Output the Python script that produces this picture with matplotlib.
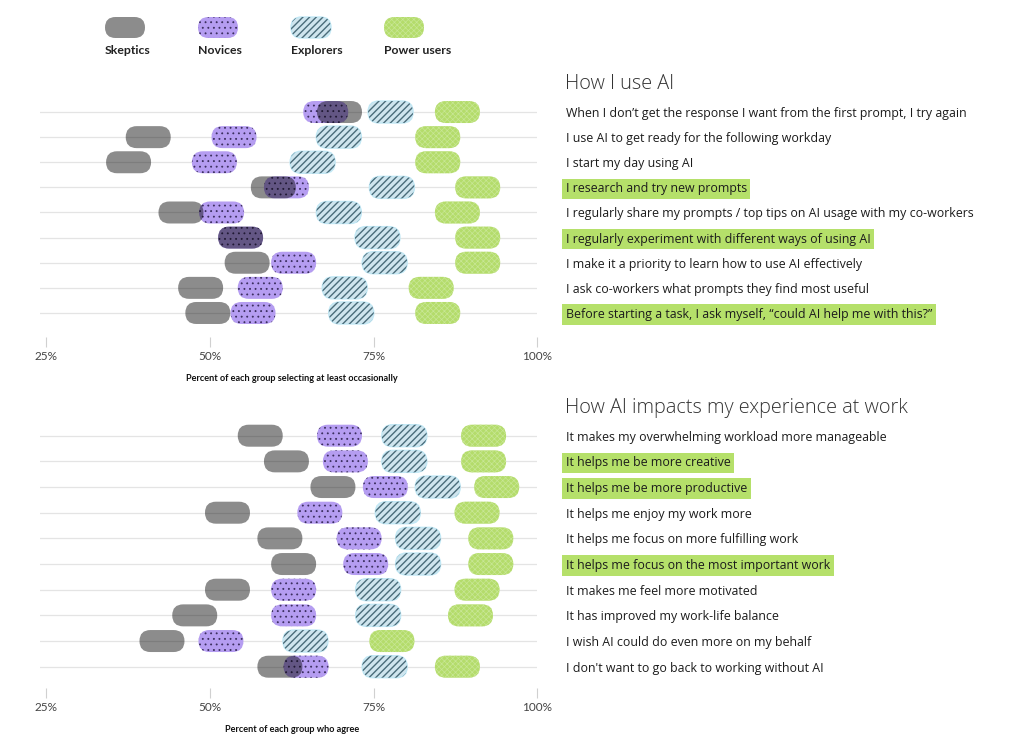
import matplotlib
matplotlib.use("Agg")
from matplotlib import pyplot as plt
from matplotlib.patches import FancyBboxPatch

plt.rcParams['font.family'] = ['Open Sans', 'DejaVu Sans']
BOLD_FONT = ['Lato', 'DejaVu Sans']

# legend groups
groups = ['Skeptics', 'Novices', 'Explorers', 'Power users']

# top block: how I use AI
use_labels = [
    "When I don\u2019t get the response I want from the first prompt, I try again",
    "I use AI to get ready for the following workday",
    "I start my day using AI",
    "I research and try new prompts",
    "I regularly share my prompts / top tips on AI usage with my co-workers",
    "I regularly experiment with different ways of using AI",
    "I make it a priority to learn how to use AI effectively",
    "I ask co-workers what prompts they find most useful",
    "Before starting a task, I ask myself, \u201ccould AI help me with this?\u201d",
]
use_highlight = [3, 5, 8]
use_skeptics = [69.8, 40.6, 37.6, 59.7, 45.6, 54.7, 55.7, 48.6, 49.7]
use_novices = [67.7, 53.7, 50.7, 61.7, 51.8, 54.7, 62.8, 57.7, 56.6]
use_explorers = [77.6, 69.7, 65.7, 77.8, 69.7, 75.6, 76.7, 70.6, 71.6]
use_power = [87.8, 84.8, 84.8, 90.9, 87.8, 90.9, 90.9, 83.8, 84.8]

# bottom block: how AI impacts work
imp_labels = [
    "It makes my overwhelming workload more manageable",
    "It helps me be more creative",
    "It helps me be more productive",
    "It helps me enjoy my work more",
    "It helps me focus on more fulfilling work",
    "It helps me focus on the most important work",
    "It makes me feel more motivated",
    "It has improved my work-life balance",
    "I wish AI could do even more on my behalf",
    "I don't want to go back to working without AI",
]
imp_highlight = [1, 2, 5]
imp_skeptics = [57.7, 61.7, 68.8, 52.7, 60.7, 62.8, 52.7, 47.7, 42.7, 60.7]
imp_novices = [69.8, 70.7, 76.8, 66.8, 72.8, 73.8, 62.8, 62.8, 51.7, 64.7]
imp_explorers = [79.7, 79.7, 84.8, 78.7, 81.8, 81.8, 75.7, 75.7, 64.6, 76.7]
imp_power = [91.8, 91.8, 93.8, 90.8, 92.9, 92.9, 90.8, 89.8, 77.8, 87.8]

x_ticks = [25, 50, 75, 100]
x_ticklabels = ['25%', '50%', '75%', '100%']

HL = '#b5e06a'
GRID = '#e4e4e4'
PILL_W, PILL_H = 45, 22   # pixels


def style_for(g):
    # one or two layers per group
    if g == 0:
        return [dict(facecolor='black', alpha=0.45, hatch=None, hc='none', lw=0)]
    if g == 1:
        return [dict(facecolor='#b59df1', alpha=1, hatch='...', hc='#3b2e5e', lw=0, hlw=0.6)]
    if g == 2:
        return [dict(facecolor='#cfe5ee', alpha=1, hatch=None, hc='#c2e8f5', lw=1.0),
                dict(facecolor='none', alpha=1, hatch='/////', hc='#4a6c7a', lw=0, hlw=1.0)]
    return [dict(facecolor='#b4dc6b', alpha=1, hatch='xxxxxx', hc='#c8e795', lw=0, hlw=0.5)]


def pill(ax, x, y, g, px_x, px_y, z):
    w = PILL_W / px_x
    h = PILL_H / px_y
    r = (PILL_H / 2) / px_x
    for s in style_for(g):
        p = FancyBboxPatch((x - w / 2, y - h / 2), w, h,
                           boxstyle=f"round,pad=0,rounding_size={r}",
                           mutation_aspect=px_x / px_y,
                           facecolor=s['facecolor'], edgecolor=s['hc'],
                           linewidth=s['lw'], hatch=s['hatch'],
                           alpha=s['alpha'], zorder=z)
        if s['hatch'] and hasattr(p, 'set_hatch_linewidth'):
            p.set_hatch_linewidth(s['hlw'])
        ax.add_patch(p)


def block(ax, labels, highlight, series, xlabel, title):
    n = len(labels)
    rows = list(range(n))
    ax.set_xlim(24, 100)
    ax.set_ylim(n - 1 + ax._bot_pad, ax._top_pad)
    bb = ax.get_window_extent()
    px_x = bb.width / 76.0
    px_y = bb.height / abs(ax._bot_pad + n - 1 - ax._top_pad)

    for g in [2, 3, 1, 0]:
        for i, v in enumerate(series[g]):
            pill(ax, v, rows[i], g, px_x, px_y, 3 + (g == 0))

    ax.set_axisbelow(True)
    ax.grid(axis='y', color=GRID, linewidth=0.9)
    ax.grid(axis='x', visible=False)
    for sp in ax.spines.values():
        sp.set_visible(False)

    ax.set_xticks(x_ticks)
    ax.set_xticklabels(x_ticklabels, fontsize=8.5, color='#444444', family=BOLD_FONT)
    ax.tick_params(axis='x', length=7, width=0.8, color='#d0d0d0', pad=3)

    ax.yaxis.tick_right()
    ax.set_yticks(rows)
    ax.set_yticklabels(labels, fontsize=8.9, color='#1c1c1c', ha='left')
    ax.tick_params(axis='y', length=0, pad=20.5)
    for i, t in enumerate(ax.get_yticklabels()):
        if i in highlight:
            t.set_bbox(dict(facecolor=HL, edgecolor='none', pad=2.6))

    ax.text(62.5, ax._xl_y, xlabel, transform=ax.get_xaxis_transform(),
            ha='center', va='center', fontsize=6.6, weight='bold',
            color='#111111', family=BOLD_FONT)
    ax.text(1.0557, ax._title_y, title, transform=ax.transAxes,
            ha='left', va='center', fontsize=14.3, weight='light', color='#333333')


fig = plt.figure(figsize=(10.24, 7.53), dpi=100)

# top panel: 95..337 px
ax1 = fig.add_axes([39.5 / 1024, 1 - 337 / 753, 497.8 / 1024, 242 / 753])
ax1._top_pad = -17 / 25.1
ax1._bot_pad = 24 / 25.1
ax1._xl_y = -41 / 242
ax1._title_y = 1 + (95 - 84) / 242
block(ax1, use_labels, use_highlight,
      [use_skeptics, use_novices, use_explorers, use_power],
      'Percent of each group selecting at least occasionally', 'How I use AI')

# bottom panel: 420..688 px
ax2 = fig.add_axes([39.5 / 1024, 1 - 688 / 753, 497.8 / 1024, 268 / 753])
ax2._top_pad = -15.7 / 25.67
ax2._bot_pad = 21.3 / 25.67
ax2._xl_y = -41 / 268
ax2._title_y = 1 + (420 - 408) / 268
block(ax2, imp_labels, imp_highlight,
      [imp_skeptics, imp_novices, imp_explorers, imp_power],
      'Percent of each group who agree', 'How AI impacts my experience at work')

# legend strip in pixel units
axl = fig.add_axes([0, 1 - 70 / 753, 1, 70 / 753])
axl.set_xlim(0, 1024)
axl.set_ylim(70, 0)
axl.axis('off')
for g, name in enumerate(groups):
    cx = 125 + 93 * g
    pill_w = 40
    for s in style_for(g):
        p = FancyBboxPatch((cx - pill_w / 2, 17), pill_w, 21,
                           boxstyle="round,pad=0,rounding_size=10.5",
                           facecolor=s['facecolor'], edgecolor=s['hc'],
                           linewidth=s['lw'], hatch=s['hatch'], alpha=s['alpha'])
        if s['hatch'] and hasattr(p, 'set_hatch_linewidth'):
            p.set_hatch_linewidth(s['hlw'])
        axl.add_patch(p)
    axl.text(cx - pill_w / 2, 50, name, ha='left', va='center', fontsize=8.8,
             weight='bold', color='#222222', family=BOLD_FONT)

fig.savefig('out.png', dpi=100)
